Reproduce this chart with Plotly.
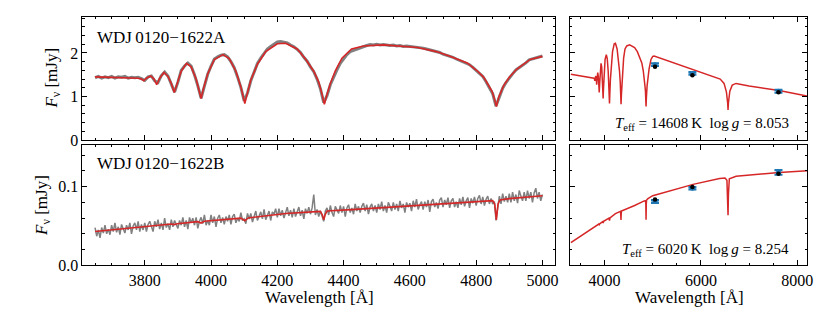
import plotly.graph_objects as go

# ---------------- data ----------------
# WDJ0120-1622A model spectrum (mJy)
modelA_wl = [3650, 3700, 3750, 3780, 3790, 3797, 3805, 3818, 3828, 3836, 3845, 3858, 3870, 3880,
             3889, 3898, 3910, 3926, 3940, 3955, 3964, 3970, 3976, 3990, 4010, 4036, 4055, 4075,
             4090, 4097, 4102, 4107, 4120, 4140, 4165, 4200, 4225, 4260, 4285, 4310, 4325, 4335,
             4342, 4350, 4360, 4375, 4395, 4424, 4460, 4520, 4580, 4623, 4680, 4723, 4773, 4803,
             4823, 4840, 4848, 4855, 4861, 4868, 4883, 4900, 4923, 4963, 5000]
modelA_fl = [1.45, 1.44, 1.43, 1.42, 1.40, 1.36, 1.42, 1.47, 1.40, 1.27, 1.42, 1.55, 1.46, 1.30,
             1.09, 1.30, 1.58, 1.76, 1.68, 1.40, 1.15, 0.955, 1.15, 1.52, 1.85, 1.96, 1.87, 1.58,
             1.22, 1.02, 0.84, 1.00, 1.38, 1.74, 2.03, 2.21, 2.22, 2.09, 1.86, 1.58, 1.33, 1.05,
             0.82, 1.05, 1.30, 1.59, 1.88, 2.09, 2.16, 2.185, 2.16, 2.125, 2.03, 1.92, 1.77, 1.59,
             1.44, 1.22, 1.12, 0.95, 0.77, 0.98, 1.25, 1.44, 1.63, 1.85, 1.92]
# extension of the A model over the SED panel
modelA_blue_wl = [3300, 3450, 3560]
modelA_blue_fl = [1.51, 1.48, 1.455]
modelA_red_wl = [5030, 5400, 5699, 6000, 6300, 6400, 6480, 6530, 6555, 6563, 6571, 6600, 6650,
                 6730, 7000, 7624, 8200]
modelA_red_fl = [1.93, 1.79, 1.68, 1.56, 1.445, 1.40, 1.30, 1.10, 0.85, 0.69, 0.85, 1.12, 1.26,
                 1.30, 1.24, 1.14, 1.01]

# WDJ0120-1622A observed spectrum, 10 A sampling from 3650 A
obsA_start, obsA_step = 3650, 10
obsA_fl = [1.43, 1.46, 1.42, 1.45, 1.43, 1.46, 1.42, 1.45, 1.44, 1.46,
           1.42, 1.44, 1.43, 1.44, 1.41, 1.37, 1.45, 1.47, 1.36, 1.32,
           1.48, 1.56, 1.47, 1.29, 1.10, 1.33, 1.60, 1.70, 1.77, 1.70,
           1.50, 1.25, 0.96, 1.24, 1.51, 1.70, 1.86, 1.91, 1.95, 1.96,
           1.91, 1.80, 1.66, 1.45, 1.21, 0.90, 1.08, 1.36, 1.57, 1.76,
           1.88, 1.99, 2.09, 2.15, 2.20, 2.25, 2.26, 2.25, 2.23, 2.18,
           2.14, 2.08, 2.01, 1.90, 1.81, 1.68, 1.57, 1.40, 1.18, 0.86,
           1.02, 1.27, 1.45, 1.61, 1.76, 1.86, 1.96, 2.03, 2.06, 2.09,
           2.12, 2.15, 2.17, 2.19, 2.18, 2.20, 2.18, 2.19, 2.18, 2.17,
           2.18, 2.16, 2.17, 2.15, 2.16, 2.15, 2.14, 2.14, 2.12, 2.11,
           2.09, 2.07, 2.05, 2.03, 2.01, 1.97, 1.95, 1.92, 1.90, 1.86,
           1.83, 1.80, 1.77, 1.73, 1.67, 1.60, 1.53, 1.46, 1.34, 1.21,
           1.06, 0.78, 1.01, 1.19, 1.32, 1.43, 1.52, 1.61, 1.66, 1.73,
           1.77, 1.84, 1.86, 1.89, 1.90, 1.93]

# WDJ0120-1622B model spectrum (mJy)
modelB_wl = [3650, 3700, 3786, 3880, 3889, 3898, 3960, 3970, 3980, 4090, 4102, 4112, 4225,
             4330, 4336, 4340, 4344, 4350, 4424, 4624, 4823, 4850, 4856, 4861, 4866, 4872,
             4900, 5000]
modelB_fl = [0.0430, 0.0450, 0.0494, 0.0525, 0.0518, 0.0528, 0.0555, 0.0538, 0.0560, 0.0600,
             0.0568, 0.0603, 0.0658, 0.0686, 0.0640, 0.0578, 0.0640, 0.0690, 0.0708, 0.0761,
             0.0819, 0.0822, 0.0780, 0.0578, 0.0780, 0.0830, 0.0848, 0.0885]
modelB_blue_wl = [3300, 3400, 3500, 3600]
modelB_blue_fl = [0.0290, 0.0330, 0.0375, 0.0412]
modelB_red_wl = [5356, 5837, 6387, 6500, 6540, 6555, 6563, 6571, 6590, 6730, 7624, 8208]
modelB_red_fl = [0.0947, 0.1029, 0.1103, 0.1110, 0.1080, 0.0900, 0.0638, 0.0900, 0.1100,
                 0.1132, 0.1181, 0.1202]

# WDJ0120-1622B observed spectrum, 5 A sampling from 3650 A
obsB_start, obsB_step = 3650, 5
obsB_fl = [
    .048, .037, .045, .035, .048, .041, .051, .040, .046, .039,
    .051, .043, .054, .042, .049, .039, .052, .046, .041, .051,
    .045, .054, .040, .050, .054, .045, .056, .043, .052, .045,
    .054, .043, .052, .056, .048, .043, .056, .049, .058, .046,
    .054, .045, .060, .048, .053, .045, .058, .049, .057, .051,
    .047, .057, .051, .061, .049, .057, .046, .061, .054, .060,
    .051, .061, .047, .056, .061, .053, .064, .051, .057, .051,
    .064, .054, .062, .049, .060, .064, .054, .061, .052, .062,
    .056, .064, .052, .062, .065, .054, .060, .056, .067, .057,
    .059, .053, .066, .059, .066, .055, .064, .069, .057, .063,
    .068, .059, .071, .058, .065, .069, .057, .068, .065, .072,
    .061, .072, .063, .070, .060, .069, .074, .063, .070, .061,
    .072, .062, .069, .074, .063, .070, .059, .072, .066, .074,
    .065, .073, .090, .064, .071, .062, .069, .063, .056, .069,
    .073, .064, .076, .067, .062, .075, .071, .066, .076, .067,
    .075, .062, .073, .077, .067, .073, .065, .078, .069, .075,
    .067, .075, .079, .069, .077, .065, .074, .078, .069, .076,
    .067, .078, .071, .081, .069, .076, .067, .080, .075, .069,
    .080, .071, .078, .069, .082, .073, .078, .067, .080, .074,
    .079, .069, .082, .074, .084, .071, .077, .081, .071, .081,
    .074, .083, .068, .081, .084, .074, .080, .072, .083, .086,
    .074, .083, .077, .086, .073, .082, .085, .074, .081, .073,
    .085, .077, .087, .075, .082, .086, .073, .085, .079, .087,
    .076, .085, .089, .078, .087, .076, .084, .088, .078, .085,
    .078, .081, .057, .076, .088, .078, .091, .081, .088, .080,
    .091, .080, .093, .082, .090, .079, .095, .088, .082, .093,
    .082, .095, .085, .093, .080, .092, .098, .085, .093, .082,
    .090]

# photometry (observed = blue with errors, synthetic = black)
phot_wl = [5047, 5823, 7610]
photA_obs = [1.73, 1.53, 1.12]
photA_err = [0.03, 0.03, 0.03]
photA_syn = [1.685, 1.49, 1.10]
photB_obs = [0.0811, 0.0979, 0.1181]
photB_err = [0.0018, 0.0015, 0.0030]
photB_syn = [0.0836, 0.0996, 0.1165]

labelA = "WDJ\u20090120\u22121622A"
labelB = "WDJ\u20090120\u22121622B"
paramA = "<i>T</i><sub>eff</sub> = 14608\u2009K  log\u2009<i>g</i> = 8.053"
paramB = "<i>T</i><sub>eff</sub> = 6020\u2009K  log\u2009<i>g</i> = 8.254"

# ---------------- figure ----------------
RED = "#d62728"
GREY = "#808080"
BLUE = "#1f77b4"
FONT = "'Liberation Serif', 'Times New Roman', 'DejaVu Serif', serif"

obsA_wl = [obsA_start + i * obsA_step for i in range(len(obsA_fl))]
obsB_wl = [obsB_start + i * obsB_step for i in range(len(obsB_fl))]
sedA_wl = modelA_blue_wl + modelA_wl + modelA_red_wl
sedA_fl = modelA_blue_fl + modelA_fl + modelA_red_fl
sedB_wl = modelB_blue_wl + modelB_wl + modelB_red_wl
sedB_fl = modelB_blue_fl + modelB_fl + modelB_red_fl

fig = go.Figure()
# top-left
fig.add_trace(go.Scatter(x=obsA_wl, y=obsA_fl, mode="lines", line=dict(color=GREY, width=3),
                         xaxis="x", yaxis="y"))
fig.add_trace(go.Scatter(x=modelA_wl, y=modelA_fl, mode="lines", line=dict(color=RED, width=1.6),
                         xaxis="x", yaxis="y"))
# top-right
fig.add_trace(go.Scatter(x=sedA_wl, y=sedA_fl, mode="lines", line=dict(color=RED, width=1.5),
                         xaxis="x2", yaxis="y2"))
fig.add_trace(go.Scatter(x=phot_wl, y=photA_obs, mode="markers",
                         marker=dict(color=BLUE, size=5),
                         error_y=dict(type="data", array=photA_err, color=BLUE, thickness=2.2, width=4),
                         xaxis="x2", yaxis="y2"))
fig.add_trace(go.Scatter(x=phot_wl, y=photA_syn, mode="markers",
                         marker=dict(color="black", size=4.5), xaxis="x2", yaxis="y2"))
# bottom-left
fig.add_trace(go.Scatter(x=obsB_wl, y=obsB_fl, mode="lines", line=dict(color=GREY, width=1.5),
                         xaxis="x3", yaxis="y3"))
fig.add_trace(go.Scatter(x=modelB_wl, y=modelB_fl, mode="lines", line=dict(color=RED, width=1.6),
                         xaxis="x3", yaxis="y3"))
# bottom-right
fig.add_trace(go.Scatter(x=sedB_wl, y=sedB_fl, mode="lines", line=dict(color=RED, width=1.5),
                         xaxis="x4", yaxis="y4"))
fig.add_trace(go.Scatter(x=phot_wl, y=photB_obs, mode="markers",
                         marker=dict(color=BLUE, size=5),
                         error_y=dict(type="data", array=photB_err, color=BLUE, thickness=2.2, width=4),
                         xaxis="x4", yaxis="y4"))
fig.add_trace(go.Scatter(x=phot_wl, y=photB_syn, mode="markers",
                         marker=dict(color="black", size=4.5), xaxis="x4", yaxis="y4"))

W, H = 830, 312
def px_x(p): return p / W
def px_y(p): return 1 - p / H

LX = [px_x(75), px_x(551)]
RX = [px_x(566), px_x(805)]
TY = [px_y(136), px_y(9)]
BY = [px_y(265), px_y(141)]

def axis(domain, rng, dtick, mdtick, labels, anchor, fmt=None):
    d = dict(domain=domain, range=rng, anchor=anchor, showline=True, linecolor="black",
             linewidth=1, mirror="allticks", ticks="inside", ticklen=5, tickwidth=1,
             tickcolor="black", dtick=dtick, tick0=0, showgrid=False, zeroline=False,
             showticklabels=labels, tickfont=dict(family=FONT, size=16, color="black"),
             minor=dict(ticks="inside", dtick=mdtick, tick0=0, ticklen=2.5, tickwidth=1,
                        tickcolor="black", showgrid=False))
    if fmt:
        d["tickformat"] = fmt
    return d

fig.update_layout(
    width=W, height=H, margin=dict(l=0, r=0, t=0, b=0),
    paper_bgcolor="white", plot_bgcolor="white", showlegend=False,
    font=dict(family=FONT, size=16, color="black"),
    xaxis=axis(LX, [3612, 5038], 200, 50, False, "y"),
    yaxis=axis(TY, [0, 2.83], 1, 0.2, True, "x"),
    xaxis2=axis(RX, [3280, 8206], 2000, 500, False, "y2"),
    yaxis2=axis(TY, [0, 2.83], 1, 0.2, False, "x2"),
    xaxis3=axis(LX, [3612, 5038], 200, 50, True, "y3"),
    yaxis3=axis(BY, [0, 0.153], 0.1, 0.02, True, "x3", ".1f"),
    xaxis4=axis(RX, [3280, 8206], 2000, 500, True, "y4"),
    yaxis4=axis(BY, [0, 0.153], 0.1, 0.02, False, "x4"),
)

ann = [
    dict(text=labelA, x=px_x(88), y=px_y(30), xanchor="left", yanchor="middle", font=dict(size=17)),
    dict(text=labelB, x=px_x(88), y=px_y(160), xanchor="left", yanchor="middle", font=dict(size=17)),
    dict(text=paramA, x=px_x(789), y=px_y(119), xanchor="right", yanchor="middle", font=dict(size=15)),
    dict(text=paramB, x=px_x(789), y=px_y(249), xanchor="right", yanchor="middle", font=dict(size=15)),
    dict(text="<i>F</i><sub>\u03bd</sub> [mJy]", x=px_x(45), y=px_y(72), textangle=-90,
         xanchor="center", yanchor="middle", font=dict(size=17)),
    dict(text="<i>F</i><sub>\u03bd</sub> [mJy]", x=px_x(35), y=px_y(203), textangle=-90,
         xanchor="center", yanchor="middle", font=dict(size=17)),
    dict(text="Wavelength [\u00c5]", x=px_x(314), y=px_y(298), xanchor="center", yanchor="middle",
         font=dict(size=17)),
    dict(text="Wavelength [\u00c5]", x=px_x(686), y=px_y(298), xanchor="center", yanchor="middle",
         font=dict(size=17)),
]
for a in ann:
    a.update(xref="paper", yref="paper", showarrow=False, font=dict(family=FONT, size=a["font"]["size"], color="black"))
fig.update_layout(annotations=ann)

fig.write_html("out.html")
